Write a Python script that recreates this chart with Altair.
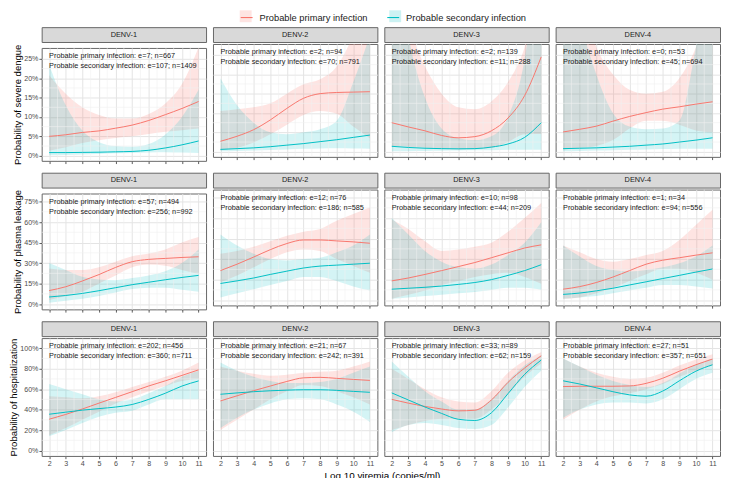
import altair as alt
import pandas as pd

X = [2, 3, 4, 5, 6, 7, 8, 9, 10, 11]
SEROTYPES = ["DENV-1", "DENV-2", "DENV-3", "DENV-4"]
GROUPS = ["Probable primary infection", "Probable secondary infection"]
OUTCOMES = ["Probability of severe dengue", "Probability of plasma leakage",
            "Probability of hospitalization"]
COLORS = ["#F8766D", "#00BFC4"]

# ---------------- severe dengue (%) ----------------
sev_d1_pri_est = [5.0, 5.4, 6.0, 6.4, 7.1, 7.9, 9.1, 10.6, 12.2, 14.0]
sev_d1_pri_lo = [1.3, 2.2, 3.3, 4.0, 4.6, 5.0, 5.6, 6.2, 6.6, 7.0]
sev_d1_pri_hi = [20.8, 16.0, 12.5, 10.5, 9.6, 9.6, 10.8, 13.5, 18.5, 28.0]
sev_d1_sec_est = [0.8, 0.8, 0.85, 0.9, 1.0, 1.1, 1.4, 2.0, 2.8, 3.8]
sev_d1_sec_lo = [0.1, 0.2, 0.3, 0.45, 0.6, 0.7, 0.85, 0.9, 0.8, 0.7]
sev_d1_sec_hi = [23.5, 13.0, 6.5, 3.5, 2.5, 2.3, 3.0, 5.5, 10.0, 17.0]

sev_d2_pri_est = [2.7, 4.0, 5.7, 8.2, 11.2, 13.8, 15.0, 15.3, 15.4, 15.5]
sev_d2_pri_lo = [0.4, 1.0, 2.4, 4.5, 7.0, 9.5, 10.5, 9.8, 6.5, 3.5]
sev_d2_pri_hi = [10.5, 11.0, 11.5, 12.5, 15.0, 17.4, 18.7, 22.0, 30.0, 40.0]
sev_d2_sec_est = [0.6, 0.8, 1.0, 1.3, 1.7, 2.1, 2.6, 3.1, 3.7, 4.3]
sev_d2_sec_lo = [0.1, 0.2, 0.3, 0.45, 0.6, 0.75, 0.85, 0.9, 0.85, 0.8]
sev_d2_sec_hi = [19.0, 12.0, 7.5, 5.0, 4.5, 5.0, 5.8, 8.0, 18.0, 30.0]

sev_d3_pri_est = [7.5, 6.4, 5.4, 4.2, 3.6, 3.9, 5.4, 8.7, 14.5, 24.5]
sev_d3_pri_lo = [1.5, 1.3, 1.0, 0.8, 0.6, 0.7, 1.0, 2.5, 4.5, 4.6]
sev_d3_pri_hi = [40.0, 32.0, 22.0, 15.0, 11.5, 11.0, 13.0, 18.0, 27.0, 45.0]
sev_d3_sec_est = [1.4, 1.1, 0.9, 0.8, 0.75, 0.8, 1.2, 2.0, 3.7, 7.5]
sev_d3_sec_lo = [0.1, 0.15, 0.2, 0.25, 0.3, 0.35, 0.4, 0.5, 0.5, 0.5]
sev_d3_sec_hi = [60.0, 30.0, 14.0, 6.0, 3.5, 3.0, 4.0, 9.0, 24.0, 60.0]

sev_d4_pri_est = [5.1, 5.8, 6.6, 7.9, 9.1, 10.1, 11.0, 11.6, 12.3, 12.9]
sev_d4_pri_lo = [0.5, 1.0, 1.5, 3.0, 6.0, 8.0, 8.0, 7.0, 5.5, 5.0]
sev_d4_pri_hi = [60.0, 40.0, 27.0, 20.0, 16.0, 15.0, 15.5, 19.0, 27.0, 40.0]
sev_d4_sec_est = [0.8, 0.9, 1.0, 1.2, 1.4, 1.7, 2.0, 2.5, 3.0, 3.6]
sev_d4_sec_lo = [0.1, 0.2, 0.3, 0.4, 0.5, 0.6, 0.7, 0.8, 0.8, 0.8]
sev_d4_sec_hi = [60.0, 35.0, 20.0, 10.0, 6.5, 5.8, 6.0, 8.0, 27.0, 50.0]

# ---------------- plasma leakage (%) ----------------
pl_d1_pri_est = [9.9, 12.7, 16.9, 21.6, 26.8, 31.0, 32.7, 33.4, 34.1, 34.6]
pl_d1_pri_lo = [3.0, 6.0, 9.0, 15.0, 21.0, 27.0, 29.0, 28.0, 25.0, 22.0]
pl_d1_pri_hi = [26.0, 25.0, 25.0, 27.0, 31.0, 35.0, 37.0, 40.0, 45.0, 49.0]
pl_d1_sec_est = [5.2, 6.3, 7.8, 9.8, 12.0, 14.2, 16.0, 17.8, 19.5, 21.0]
pl_d1_sec_lo = [1.0, 2.5, 4.0, 6.0, 8.5, 11.0, 12.0, 12.0, 10.5, 9.0]
pl_d1_sec_hi = [30.0, 25.0, 20.0, 18.0, 17.5, 19.0, 21.0, 24.0, 30.0, 40.0]

pl_d2_pri_est = [21.6, 26.3, 31.5, 36.9, 41.4, 44.0, 44.0, 43.3, 42.6, 41.6]
pl_d2_pri_lo = [13.0, 18.0, 24.0, 30.0, 35.0, 37.0, 36.0, 30.0, 25.0, 20.0]
pl_d2_pri_hi = [34.0, 36.0, 39.0, 43.0, 47.0, 50.0, 52.0, 58.0, 63.0, 68.0]
pl_d2_sec_est = [12.2, 14.1, 16.2, 18.8, 21.2, 23.5, 24.9, 25.6, 26.3, 27.0]
pl_d2_sec_lo = [2.0, 5.0, 8.0, 11.0, 14.0, 17.0, 17.0, 14.0, 10.0, 7.0]
pl_d2_sec_hi = [48.0, 40.0, 34.0, 30.0, 29.0, 30.0, 31.0, 35.0, 40.0, 48.0]

pl_d3_pri_est = [14.1, 16.2, 18.8, 21.6, 24.5, 27.5, 31.0, 34.6, 38.1, 40.4]
pl_d3_pri_lo = [1.0, 4.0, 7.0, 11.0, 14.0, 17.0, 19.0, 20.0, 17.0, 12.0]
pl_d3_pri_hi = [59.0, 52.0, 43.0, 36.0, 37.0, 39.0, 42.0, 50.0, 60.0, 71.0]
pl_d3_sec_est = [8.0, 8.7, 9.4, 10.3, 11.5, 12.9, 15.0, 18.1, 21.6, 25.9]
pl_d3_sec_lo = [1.0, 2.0, 3.0, 4.0, 5.0, 6.0, 7.5, 9.0, 9.0, 7.5]
pl_d3_sec_hi = [60.0, 48.0, 36.0, 28.0, 24.0, 23.0, 26.0, 33.0, 42.0, 57.0]

pl_d4_pri_est = [8.0, 9.9, 12.9, 16.9, 21.6, 26.3, 29.2, 31.0, 32.9, 34.6]
pl_d4_pri_lo = [1.0, 2.0, 5.0, 9.0, 14.0, 19.0, 23.0, 23.0, 20.0, 15.0]
pl_d4_pri_hi = [40.0, 35.0, 30.0, 28.0, 30.0, 33.0, 36.0, 44.0, 55.0, 66.0]
pl_d4_sec_est = [4.2, 5.2, 6.8, 8.7, 11.1, 13.4, 15.8, 18.1, 20.5, 22.8]
pl_d4_sec_lo = [1.0, 2.0, 3.0, 5.0, 7.0, 9.0, 11.0, 11.0, 10.0, 8.5]
pl_d4_sec_hi = [40.0, 32.0, 25.0, 22.0, 21.0, 22.0, 24.0, 27.0, 32.0, 40.0]

# ---------------- hospitalization (%) ----------------
ho_d1_pri_est = [30.6, 35.3, 40.6, 46.3, 51.9, 57.5, 63.1, 68.1, 73.4, 78.8]
ho_d1_pri_lo = [15.0, 22.0, 30.0, 38.0, 46.0, 52.0, 58.0, 63.0, 68.0, 70.0]
ho_d1_pri_hi = [53.0, 52.0, 51.0, 53.0, 57.0, 62.0, 67.0, 72.0, 78.0, 86.0]
ho_d1_sec_est = [35.5, 37.5, 39.5, 41.0, 42.5, 45.0, 50.0, 56.0, 63.0, 68.0]
ho_d1_sec_lo = [14.0, 20.0, 27.0, 33.0, 37.0, 39.0, 45.0, 50.0, 50.0, 50.0]
ho_d1_sec_hi = [65.0, 60.0, 55.0, 50.0, 48.0, 50.0, 56.0, 63.0, 72.0, 78.0]

ho_d2_pri_est = [48.5, 53.5, 58.5, 63.0, 67.5, 71.0, 71.5, 70.5, 69.5, 68.5]
ho_d2_pri_lo = [20.0, 30.0, 40.0, 50.0, 58.0, 64.0, 63.0, 58.0, 52.0, 45.0]
ho_d2_pri_hi = [82.0, 78.0, 75.0, 73.0, 74.0, 76.0, 77.0, 78.0, 82.0, 87.0]
ho_d2_sec_est = [55.0, 56.3, 57.5, 58.4, 59.0, 59.4, 59.4, 58.8, 57.8, 56.9]
ho_d2_sec_lo = [22.0, 32.0, 40.0, 46.0, 50.0, 51.0, 50.0, 45.0, 38.0, 28.0]
ho_d2_sec_hi = [86.0, 78.0, 72.0, 68.0, 66.0, 66.0, 67.0, 70.0, 76.0, 82.0]

ho_d3_pri_est = [50.0, 46.3, 43.1, 40.6, 38.8, 39.4, 49.4, 66.6, 80.6, 92.5]
ho_d3_pri_lo = [20.0, 25.0, 29.0, 31.0, 31.0, 31.0, 40.0, 55.0, 72.0, 85.0]
ho_d3_pri_hi = [80.0, 70.0, 60.0, 52.0, 48.0, 47.0, 58.0, 76.0, 88.0, 96.0]
ho_d3_sec_est = [56.3, 49.4, 42.5, 36.3, 30.6, 29.4, 36.9, 55.6, 74.4, 88.4]
ho_d3_sec_lo = [18.0, 25.0, 27.0, 25.0, 22.0, 21.0, 25.0, 42.0, 62.0, 78.0]
ho_d3_sec_hi = [87.0, 72.0, 58.0, 48.0, 40.0, 40.0, 50.0, 68.0, 83.0, 93.0]

ho_d4_pri_est = [62.5, 62.8, 62.8, 62.8, 63.1, 65.6, 70.6, 77.5, 83.8, 89.4]
ho_d4_pri_lo = [30.0, 40.0, 48.0, 53.0, 56.0, 60.0, 65.0, 72.0, 78.0, 83.0]
ho_d4_pri_hi = [90.0, 82.0, 76.0, 72.0, 70.0, 71.0, 76.0, 83.0, 89.0, 94.0]
ho_d4_sec_est = [68.1, 65.0, 61.3, 57.5, 54.4, 53.1, 58.1, 68.1, 77.5, 83.8]
ho_d4_sec_lo = [32.0, 40.0, 45.0, 47.0, 47.0, 46.0, 50.0, 60.0, 70.0, 76.0]
ho_d4_sec_hi = [90.0, 82.0, 74.0, 68.0, 64.0, 62.0, 66.0, 75.0, 84.0, 90.0]

# ---------------- events / sample sizes ----------------
sev_pri_e = [7, 2, 2, 0]
sev_pri_n = [667, 94, 139, 53]
sev_sec_e = [107, 70, 11, 45]
sev_sec_n = [1409, 791, 288, 694]
pl_pri_e = [57, 12, 10, 1]
pl_pri_n = [494, 76, 98, 34]
pl_sec_e = [256, 186, 44, 94]
pl_sec_n = [992, 585, 209, 556]
ho_pri_e = [202, 21, 33, 27]
ho_pri_n = [456, 67, 89, 51]
ho_sec_e = [360, 242, 62, 357]
ho_sec_n = [711, 391, 159, 651]

# ---------------- axes ----------------
X_MINOR = [2.5, 3.5, 4.5, 5.5, 6.5, 7.5, 8.5, 9.5, 10.5]
Y_TICKS = [[0, 5, 10, 15, 20, 25], [0, 15, 30, 45, 60, 75], [0, 20, 40, 60, 80, 100]]
Y_MINOR = [[2.5, 7.5, 12.5, 17.5, 22.5], [7.5, 22.5, 37.5, 52.5, 67.5], [10, 30, 50, 70, 90]]
Y_DOM = [[-1.33, 27.83], [-3.85, 80.85], [-5.2, 109.8]]
X_DOM = [1.55, 11.45]

SERIES = [
    [[(sev_d1_pri_est, sev_d1_pri_lo, sev_d1_pri_hi), (sev_d1_sec_est, sev_d1_sec_lo, sev_d1_sec_hi)],
     [(sev_d2_pri_est, sev_d2_pri_lo, sev_d2_pri_hi), (sev_d2_sec_est, sev_d2_sec_lo, sev_d2_sec_hi)],
     [(sev_d3_pri_est, sev_d3_pri_lo, sev_d3_pri_hi), (sev_d3_sec_est, sev_d3_sec_lo, sev_d3_sec_hi)],
     [(sev_d4_pri_est, sev_d4_pri_lo, sev_d4_pri_hi), (sev_d4_sec_est, sev_d4_sec_lo, sev_d4_sec_hi)]],
    [[(pl_d1_pri_est, pl_d1_pri_lo, pl_d1_pri_hi), (pl_d1_sec_est, pl_d1_sec_lo, pl_d1_sec_hi)],
     [(pl_d2_pri_est, pl_d2_pri_lo, pl_d2_pri_hi), (pl_d2_sec_est, pl_d2_sec_lo, pl_d2_sec_hi)],
     [(pl_d3_pri_est, pl_d3_pri_lo, pl_d3_pri_hi), (pl_d3_sec_est, pl_d3_sec_lo, pl_d3_sec_hi)],
     [(pl_d4_pri_est, pl_d4_pri_lo, pl_d4_pri_hi), (pl_d4_sec_est, pl_d4_sec_lo, pl_d4_sec_hi)]],
    [[(ho_d1_pri_est, ho_d1_pri_lo, ho_d1_pri_hi), (ho_d1_sec_est, ho_d1_sec_lo, ho_d1_sec_hi)],
     [(ho_d2_pri_est, ho_d2_pri_lo, ho_d2_pri_hi), (ho_d2_sec_est, ho_d2_sec_lo, ho_d2_sec_hi)],
     [(ho_d3_pri_est, ho_d3_pri_lo, ho_d3_pri_hi), (ho_d3_sec_est, ho_d3_sec_lo, ho_d3_sec_hi)],
     [(ho_d4_pri_est, ho_d4_pri_lo, ho_d4_pri_hi), (ho_d4_sec_est, ho_d4_sec_lo, ho_d4_sec_hi)]],
]
COUNTS = [
    (sev_pri_e, sev_pri_n, sev_sec_e, sev_sec_n),
    (pl_pri_e, pl_pri_n, pl_sec_e, pl_sec_n),
    (ho_pri_e, ho_pri_n, ho_sec_e, ho_sec_n),
]

FONT = "Liberation Sans"
W = 166
HEIGHTS = [114, 117, 119]
STRIP_H = 15
BORDER = "#666666"
GRID_MAJOR = "#e4e4e4"
GRID_MINOR = "#efefef"

LEG_COMMON = dict(orient="none", legendX=200, legendY=-17, direction="horizontal",
                  title=None, symbolSize=144, labelFontSize=9.4, labelFont=FONT,
                  labelColor="#1a1a1a", labelOffset=6, padding=0)
fill_legend = alt.Legend(symbolType="square", symbolOpacity=0.2, symbolStrokeWidth=0,
                         labelExpr="''", columnPadding=133, **LEG_COMMON)
stroke_legend = alt.Legend(symbolType="stroke", symbolStrokeWidth=1.1, columnPadding=17,
                           **LEG_COMMON)


def panel(r, c):
    rows = []
    for g in range(2):
        est, lo, hi = SERIES[r][c][g]
        for i, xv in enumerate(X):
            rows.append({"x": xv, "grp": GROUPS[g], "est": est[i], "lo": lo[i], "hi": hi[i]})
    df = pd.DataFrame(rows)
    H = HEIGHTS[r]

    xscale = alt.Scale(domain=X_DOM, nice=False, zero=False)
    yscale = alt.Scale(domain=Y_DOM[r], nice=False, zero=False)
    xaxis = alt.Axis(values=X, title=None, grid=True, gridColor=GRID_MAJOR, gridWidth=1,
                     domain=False, ticks=True, tickSize=2.75, tickColor="#333333", tickWidth=0.8,
                     labels=(r == 2), labelFontSize=7.2, labelColor="#4d4d4d", labelFont=FONT,
                     labelPadding=1, labelFlush=False)
    if c == 0:
        yaxis = alt.Axis(values=Y_TICKS[r], title=OUTCOMES[r], titleFontSize=9.6,
                         titleFontWeight="normal", titleColor="#000000", titleFont=FONT,
                         titlePadding=1, grid=True, gridColor=GRID_MAJOR, gridWidth=1,
                         domain=False, ticks=True, tickSize=2.75, tickColor="#333333",
                         tickWidth=0.8, labels=True, labelFontSize=7.2, labelColor="#4d4d4d",
                         labelFont=FONT, labelPadding=1, labelFlush=False,
                         labelExpr="datum.value + '%'")
    else:
        yaxis = alt.Axis(values=Y_TICKS[r], title=None, grid=True, gridColor=GRID_MAJOR,
                         gridWidth=1, domain=False, ticks=False, labels=False)

    base = alt.Chart(df)
    band = base.mark_area(clip=True, interpolate="monotone").encode(
        x=alt.X("x:Q", scale=xscale, axis=xaxis),
        y=alt.Y("lo:Q", scale=yscale, axis=yaxis),
        y2="hi:Q",
        fill=alt.Fill("grp:N", scale=alt.Scale(range=COLORS), legend=fill_legend),
        fillOpacity=alt.FillOpacity("grp:N", scale=alt.Scale(domain=GROUPS, range=[0.2, 0.17]),
                                    legend=None),
        detail="grp:N",
    )
    line = base.mark_line(clip=True, interpolate="monotone", strokeWidth=1).encode(
        x=alt.X("x:Q", scale=xscale, axis=xaxis),
        y=alt.Y("est:Q", scale=yscale, axis=yaxis),
        stroke=alt.Stroke("grp:N", scale=alt.Scale(domain=GROUPS, range=COLORS),
                          legend=stroke_legend),
    )
    xminor = alt.Chart(pd.DataFrame({"v": X_MINOR})).mark_rule(
        color=GRID_MINOR, strokeWidth=0.6).encode(x=alt.X("v:Q", scale=xscale, axis=xaxis))
    yminor = alt.Chart(pd.DataFrame({"v": Y_MINOR[r]})).mark_rule(
        color=GRID_MINOR, strokeWidth=0.6).encode(y=alt.Y("v:Q", scale=yscale, axis=yaxis))

    pe, pn, se, sn = COUNTS[r]
    t1 = f"{GROUPS[0]}: e={pe[c]}; n={pn[c]}"
    t2 = f"{GROUPS[1]}: e={se[c]}; n={sn[c]}"
    txt_kw = dict(align="left", baseline="middle", fontSize=7.4, font=FONT, color="#1a1a1a")
    ann1 = alt.Chart(pd.DataFrame({"t": [t1]})).mark_text(**txt_kw).encode(
        text="t:N", x=alt.value(7.5), y=alt.value(8.2))
    ann2 = alt.Chart(pd.DataFrame({"t": [t2]})).mark_text(**txt_kw).encode(
        text="t:N", x=alt.value(7.5), y=alt.value(18.5))

    plot = alt.layer(band, xminor, yminor, line, ann1, ann2).properties(
        width=W, height=H,
        view=alt.ViewBackground(stroke=BORDER, strokeWidth=1, fill="white"))

    strip = alt.Chart(pd.DataFrame({"s": [SEROTYPES[c]]})).mark_text(
        fontSize=7.4, font=FONT, color="#1a1a1a", baseline="middle").encode(
        text="s:N").properties(
        width=W, height=STRIP_H,
        view=alt.ViewBackground(fill="#d9d9d9", stroke=BORDER, strokeWidth=1))
    return alt.vconcat(strip, plot, spacing=0)


rows = []
for r in range(3):
    rows.append(alt.hconcat(*[panel(r, c) for c in range(4)], spacing=5))

chart = alt.vconcat(*rows, spacing=6).properties(
    padding=0,
    title=alt.TitleParams("Log 10 viremia (copies/ml)", orient="bottom", anchor="middle",
                          fontSize=10, fontWeight="normal", font=FONT, color="#000000",
                          offset=4, dx=18),
).configure(font=FONT).configure_view(stroke=BORDER)

chart.save("out.html", embed_options={"renderer": "svg", "actions": False})
